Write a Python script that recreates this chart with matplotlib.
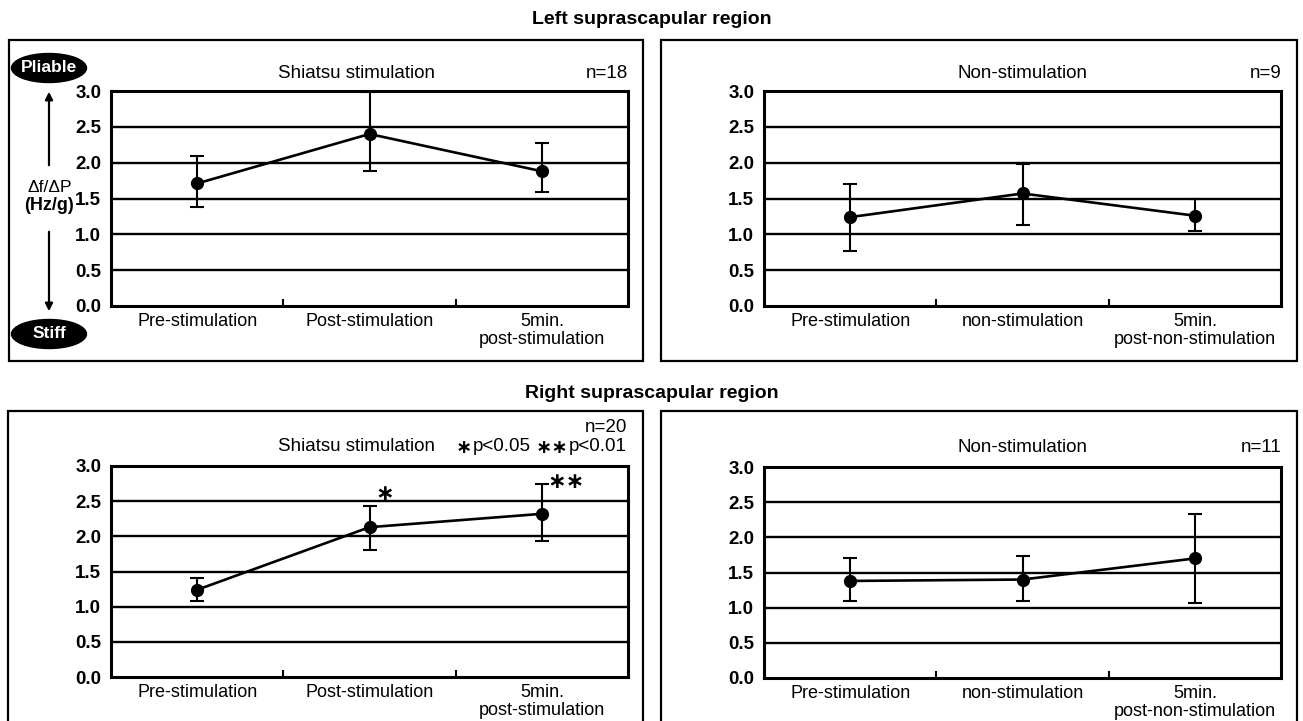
import matplotlib
matplotlib.use('Agg')
import matplotlib.pyplot as plt
import numpy as np
from matplotlib.patches import Rectangle, Ellipse, FancyArrowPatch

plt.rcParams['font.family'] = ['Liberation Sans', 'DejaVu Sans']

# ---------------- data ----------------
cats_stim = ["Pre-stimulation", "Post-stimulation", "5min.\npost-stimulation"]
cats_non = ["Pre-stimulation", "non-stimulation", "5min.\npost-non-stimulation"]
yticks = [0.0, 0.5, 1.0, 1.5, 2.0, 2.5, 3.0]

left_stim_mean = [1.71, 2.40, 1.88]
left_stim_upper = [2.10, 2.98, 2.28]
left_stim_lower = [1.38, 1.88, 1.59]

left_non_mean = [1.24, 1.57, 1.26]
left_non_upper = [1.70, 1.98, 1.49]
left_non_lower = [0.77, 1.13, 1.05]

right_stim_mean = [1.24, 2.13, 2.32]
right_stim_upper = [1.41, 2.43, 2.74]
right_stim_lower = [1.08, 1.80, 1.94]

right_non_mean = [1.38, 1.40, 1.70]
right_non_upper = [1.71, 1.74, 2.33]
right_non_lower = [1.09, 1.09, 1.07]

# ---------------- layout helpers ----------------
W, H = 1303, 721
fig = plt.figure(figsize=(W / 100, H / 100), dpi=100)

FS = 13.5      # header text
FS_CAT = 13    # category labels
FS_TICK = 13.5 # y tick labels


def fx(x):
    return x / W


def fy(y):
    return 1 - y / H


def box(x0, y0, x1, y1):
    fig.patches.append(Rectangle((fx(x0), fy(y1)), fx(x1) - fx(x0), fy(y0) - fy(y1),
                                 transform=fig.transFigure, fill=False, lw=1.6,
                                 ec='black'))


def panel(x0, y0, x1, y1, cats, mean, up, lo):
    ax = fig.add_axes([fx(x0), fy(y1), fx(x1) - fx(x0), fy(y0) - fy(y1)])
    ax.set_xlim(-0.5, 2.5)
    ax.set_ylim(0, 3)
    for v in yticks[1:-1]:
        ax.axhline(v, color='black', lw=1.7, zorder=1)
    mean = np.array(mean)
    up = np.array(up)
    lo = np.array(lo)
    xs = np.arange(len(cats))
    ax.errorbar(xs, mean, yerr=[mean - lo, up - mean], fmt='-o', color='black',
                lw=1.9, ms=8.5, capsize=5, elinewidth=1.5, capthick=1.5,
                zorder=3, clip_on=False)
    ax.set_yticks(yticks)
    ax.set_yticklabels([f"{v:.1f}" for v in yticks], fontweight='bold', fontsize=FS_TICK)
    ax.tick_params(axis='y', length=0, pad=7)
    ax.set_xticks(xs)
    ax.set_xticklabels(cats, fontsize=FS_CAT, linespacing=1.05)
    ax.tick_params(axis='x', which='major', length=0, pad=5)
    ax.set_xticks([0.5, 1.5], minor=True)
    ax.tick_params(axis='x', which='minor', direction='in', length=5, width=1.5)
    for s in ax.spines.values():
        s.set_linewidth(2.2)
    return ax


# ---------------- boxes ----------------
box(9, 40, 643, 361)
box(661, 40, 1297, 361)
box(8, 411, 643, 760)
box(661, 411, 1297, 760)

# ---------------- titles ----------------
fig.text(fx(652), fy(20), "Left suprascapular region", ha='center', va='center',
         fontsize=14, fontweight='bold')
fig.text(fx(652), fy(393), "Right suprascapular region", ha='center', va='center',
         fontsize=14, fontweight='bold')

# ---------------- panels ----------------
ax1 = panel(111, 91, 628, 306, cats_stim, left_stim_mean, left_stim_upper, left_stim_lower)
ax2 = panel(764, 91, 1281, 306, cats_non, left_non_mean, left_non_upper, left_non_lower)
ax3 = panel(111, 466, 628, 677, cats_stim, right_stim_mean, right_stim_upper, right_stim_lower)
ax4 = panel(764, 467, 1281, 678, cats_non, right_non_mean, right_non_upper, right_non_lower)

# panel headers
fig.text(fx(357), fy(73), "Shiatsu stimulation", ha='center', va='center', fontsize=FS)
fig.text(fx(628), fy(73), "n=18", ha='right', va='center', fontsize=FS)
fig.text(fx(1022), fy(73), "Non-stimulation", ha='center', va='center', fontsize=FS)
fig.text(fx(1282), fy(73), "n=9", ha='right', va='center', fontsize=FS)

fig.text(fx(627), fy(428), "n=20", ha='right', va='center', fontsize=FS)
fig.text(fx(357), fy(447), "Shiatsu stimulation", ha='center', va='center', fontsize=FS)
# significance legend (bold asterisks, regular text)
fig.text(fx(627), fy(447), "p<0.01", ha='right', va='center', fontsize=FS)
fig.text(fx(568), fy(448), "∗∗", ha='right', va='center', fontsize=14,
         family=['DejaVu Sans'], fontweight='bold')
fig.text(fx(531), fy(447), "p<0.05", ha='right', va='center', fontsize=FS)
fig.text(fx(472), fy(448), "∗", ha='right', va='center', fontsize=14,
         family=['DejaVu Sans'], fontweight='bold')
fig.text(fx(1022), fy(448), "Non-stimulation", ha='center', va='center', fontsize=FS)
fig.text(fx(1282), fy(448), "n=11", ha='right', va='center', fontsize=FS)

# significance markers in right-shiatsu panel
ax3.text(1.09, 2.60, "∗", ha='center', va='center', fontsize=16,
         family=['DejaVu Sans'], fontweight='bold')
ax3.text(2.14, 2.77, "∗∗", ha='center', va='center', fontsize=16,
         family=['DejaVu Sans'], fontweight='bold')

# ---------------- left annotation (Pliable / Stiff) ----------------
for (cy, label) in [(68, "Pliable"), (334, "Stiff")]:
    fig.patches.append(Ellipse((fx(49), fy(cy)), 75 / W, 29 / H,
                               transform=fig.transFigure, fc='black', ec='black'))
    fig.text(fx(49), fy(cy), label, ha='center', va='center', color='white',
             fontsize=12.5, fontweight='bold')

fig.patches.append(FancyArrowPatch((fx(49), fy(168)), (fx(49), fy(89)),
                                   transform=fig.transFigure, arrowstyle='-|>',
                                   mutation_scale=11, lw=1.6, color='black'))
fig.patches.append(FancyArrowPatch((fx(49), fy(229)), (fx(49), fy(314)),
                                   transform=fig.transFigure, arrowstyle='-|>',
                                   mutation_scale=11, lw=1.6, color='black'))
fig.text(fx(50), fy(187), "Δf/ΔP", ha='center', va='center', fontsize=12.5)
fig.text(fx(49), fy(205), "(Hz/g)", ha='center', va='center', fontsize=13,
         fontweight='bold')

fig.savefig("out.png", dpi=100)
